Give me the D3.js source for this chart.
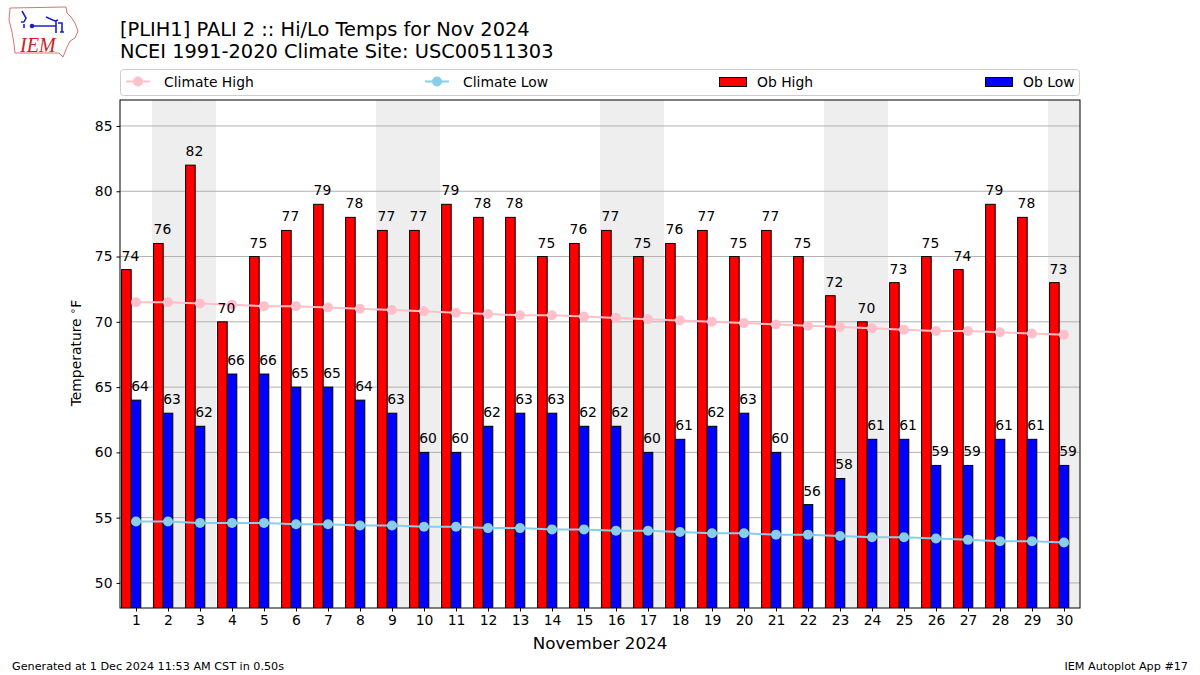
<!DOCTYPE html>
<html><head><meta charset="utf-8">
<script src="https://cdn.jsdelivr.net/npm/d3@7"></script>
<style>body{margin:0;background:#fff;} svg{display:block;font-family:"DejaVu Sans",sans-serif;}</style>
</head><body>
<svg id="chart" width="1200" height="675"></svg>
<script>
const days = d3.range(1, 31);
const obHigh = [74,76,82,70,75,77,79,78,77,77,79,78,78,75,76,77,75,76,77,75,77,75,72,70,73,75,74,79,78,73];
const obLow  = [64,63,62,66,66,65,65,64,63,60,60,62,63,63,62,62,60,61,62,63,60,56,58,61,61,59,59,61,61,59];
const climHigh = [71.5,71.5,71.4,71.3,71.2,71.2,71.1,71.0,70.9,70.8,70.7,70.6,70.5,70.5,70.4,70.3,70.2,70.1,70.0,69.9,69.8,69.7,69.6,69.5,69.4,69.3,69.3,69.2,69.1,69.0];
const climLow  = [54.7,54.7,54.6,54.6,54.6,54.5,54.5,54.4,54.4,54.3,54.3,54.2,54.2,54.1,54.1,54.0,54.0,53.9,53.8,53.8,53.7,53.7,53.6,53.5,53.5,53.4,53.3,53.2,53.2,53.1];
const weekendStarts = [2, 9, 16, 23, 30];
const yTicks = [50,55,60,65,70,75,80,85];
const titleLines = ["[PLIH1] PALI 2 :: Hi/Lo Temps for Nov 2024", "NCEI 1991-2020 Climate Site: USC00511303"];

const svg = d3.select("#chart");
const L = 120, R = 1080, T = 100, B = 608;
const FS = 13.9;
const x = d3.scaleLinear().domain([0.5, 30.5]).range([L, R]);
const y = d3.scaleLinear().domain([48.08, 86.99]).range([B, T]);

// weekend shading
svg.append("g").selectAll("rect").data(weekendStarts).join("rect")
  .attr("x", d => x(d - 0.5)).attr("y", T)
  .attr("width", d => Math.min(x(d + 1.5), R) - x(d - 0.5)).attr("height", B - T)
  .attr("fill", "#eeeeee");

// grid
svg.append("g").selectAll("line").data(yTicks).join("line")
  .attr("x1", L).attr("x2", R).attr("y1", d => y(d)).attr("y2", d => y(d))
  .attr("stroke", "#b0b0b0").attr("stroke-width", 1);

svg.append("clipPath").attr("id", "pc").append("rect")
  .attr("x", L).attr("y", T).attr("width", R - L).attr("height", B - T);
const plot = svg.append("g").attr("clip-path", "url(#pc)");

// bars
plot.append("g").selectAll("rect").data(days).join("rect")
  .attr("x", d => x(d - 0.45)).attr("width", x(0.3) - x(0))
  .attr("y", (d, i) => y(obHigh[i])).attr("height", (d, i) => B - y(obHigh[i]) + 2)
  .attr("fill", "#ff0000").attr("stroke", "#000").attr("stroke-width", 1);
plot.append("g").selectAll("rect").data(days).join("rect")
  .attr("x", d => x(d - 0.15)).attr("width", x(0.3) - x(0))
  .attr("y", (d, i) => y(obLow[i])).attr("height", (d, i) => B - y(obLow[i]) + 2)
  .attr("fill", "#0000ff").attr("stroke", "#000").attr("stroke-width", 1);

// climate lines
const line = arr => d3.line().x((d, i) => x(days[i])).y(d => y(d))(arr);
function climate(arr, color) {
  const g = plot.append("g");
  g.append("path").attr("d", line(arr)).attr("fill", "none").attr("stroke", color).attr("stroke-width", 2);
  g.selectAll("circle").data(arr).join("circle")
    .attr("cx", (d, i) => x(days[i])).attr("cy", d => y(d)).attr("r", 5).attr("fill", color);
}
climate(climHigh, "#ffc0cb");
climate(climLow, "#87ceeb");

// bar labels
svg.append("g").selectAll("text").data(days).join("text")
  .attr("x", d => x(d - 0.45)).attr("y", (d, i) => y(obHigh[i]) - 9)
  .attr("font-size", FS).attr("fill", "#000").text((d, i) => obHigh[i]);
svg.append("g").selectAll("text").data(days).join("text")
  .attr("x", d => x(d - 0.15)).attr("y", (d, i) => y(obLow[i]) - 9)
  .attr("font-size", FS).attr("fill", "#000").text((d, i) => obLow[i]);

// axes
const yAxis = svg.append("g").attr("transform", `translate(${L},0)`)
  .call(d3.axisLeft(y).tickValues(yTicks).tickSize(3.5).tickPadding(4));
const xAxis = svg.append("g").attr("transform", `translate(0,${B})`)
  .call(d3.axisBottom(x).tickValues(days).tickSize(3.5).tickPadding(4));
[yAxis, xAxis].forEach(a => {
  a.select(".domain").remove();
  a.selectAll("text").attr("font-size", FS).attr("font-family", "DejaVu Sans").attr("fill", "#000");
  a.selectAll("line").attr("stroke", "#000");
});
svg.append("rect").attr("x", L).attr("y", T).attr("width", R - L).attr("height", B - T)
  .attr("fill", "none").attr("stroke", "#000").attr("stroke-width", 1);

// axis labels
svg.append("text").attr("x", x(15.5)).attr("y", 649).attr("text-anchor", "middle")
  .attr("font-size", 16.7).text("November 2024");
const yl = svg.append("text").attr("transform", "translate(81,353) rotate(-90)").attr("text-anchor", "middle")
  .attr("font-size", FS);
yl.append("tspan").text("Temperature ");
yl.append("tspan").attr("font-size", 10).attr("dy", -5).text("\u2218");
yl.append("tspan").attr("dy", 5).text("F");

// title
svg.append("g").selectAll("text").data(titleLines).join("text")
  .attr("x", 120).attr("y", (d, i) => 36 + i * 22).attr("font-size", 19.4).text(d => d);

// legend
const lg = svg.append("g");
lg.append("rect").attr("x", 120.5).attr("y", 69.5).attr("width", 959).attr("height", 26).attr("rx", 3)
  .attr("fill", "#fff").attr("stroke", "#cccccc");
const legendItems = [
  {label: "Climate High", type: "line", color: "#ffc0cb", x: 126},
  {label: "Climate Low", type: "line", color: "#87ceeb", x: 425},
  {label: "Ob High", type: "rect", color: "#ff0000", x: 719},
  {label: "Ob Low", type: "rect", color: "#0000ff", x: 985}
];
legendItems.forEach(it => {
  if (it.type === "line") {
    lg.append("line").attr("x1", it.x).attr("x2", it.x + 24).attr("y1", 81.5).attr("y2", 81.5)
      .attr("stroke", it.color).attr("stroke-width", 2);
    lg.append("circle").attr("cx", it.x + 12).attr("cy", 81.5).attr("r", 5).attr("fill", it.color);
  } else {
    lg.append("rect").attr("x", it.x + 0.5).attr("y", 77.5).attr("width", 27).attr("height", 9)
      .attr("fill", it.color).attr("stroke", "#000").attr("stroke-width", 1);
  }
  lg.append("text").attr("x", it.x + 38).attr("y", 86.5).attr("font-size", FS).text(it.label);
});

// footer
svg.append("text").attr("x", 12).attr("y", 670).attr("font-size", 11.2).text("Generated at 1 Dec 2024 11:53 AM CST in 0.50s");
svg.append("text").attr("x", 1188).attr("y", 670).attr("text-anchor", "end").attr("font-size", 11.2).text("IEM Autoplot App #17");

// logo (simplified)
const logo = svg.append("g");
logo.append("path")
  .attr("d", "M10,8 L66,7 L67,13 L71,17 L75,23 L78,31 L75,38 L70,41 L67,47 L65,52 L63,57 L59,53 L15,53 L14,44 L12,32 L9,20 Z")
  .attr("fill", "#fff").attr("stroke", "#e07070").attr("stroke-width", 1);
logo.append("path").attr("d", "M30,26 L56,26 M56,21 L56,33 M46,17 L55,21 L58,20 M58,23 L62,23 L62,32 M60,32 L64,32 M22,11 L26,18 L24,22 M21,22 L24,22 M24,24 L24,28")
  .attr("fill", "none").attr("stroke", "#2020c0").attr("stroke-width", 1.6);
logo.append("circle").attr("cx", 32).attr("cy", 26).attr("r", 2.3).attr("fill", "#2020c0");
logo.append("text").attr("x", 20).attr("y", 52).attr("font-family", "Liberation Serif").attr("font-style", "italic")
  .attr("font-size", 20).attr("fill", "#d02020").text("IEM");
</script>
</body></html>
